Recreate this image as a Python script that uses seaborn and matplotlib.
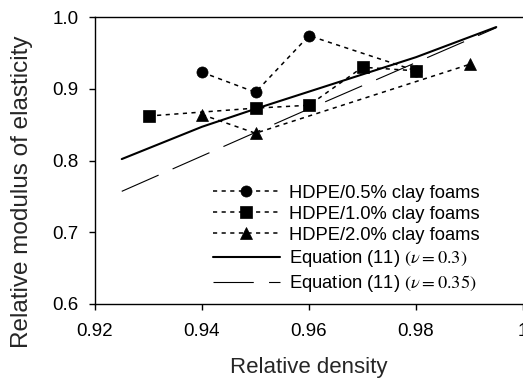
import matplotlib
matplotlib.use("Agg")
import matplotlib.pyplot as plt
import seaborn as sns
import numpy as np

# ---- data ----
x_c05 = [0.94, 0.95, 0.96, 0.98]
y_c05 = [0.923, 0.895, 0.974, 0.925]

x_c10 = [0.93, 0.95, 0.96, 0.97, 0.98]
y_c10 = [0.862, 0.873, 0.877, 0.930, 0.925]

x_c20 = [0.94, 0.95, 0.99]
y_c20 = [0.864, 0.838, 0.934]

x_eq03 = [0.925, 0.94, 0.95, 0.96, 0.97, 0.98, 0.995]
y_eq03 = [0.802, 0.847, 0.872, 0.896, 0.920, 0.944, 0.986]

x_eq035 = [0.925, 0.96, 0.995]
y_eq035 = [0.757, 0.872, 0.985]

labels = ["HDPE/0.5% clay foams", "HDPE/1.0% clay foams", "HDPE/2.0% clay foams",
          r"Equation (11) $(\nu = 0.3)$", r"Equation (11) $(\nu = 0.35)$"]
xticks = [0.92, 0.94, 0.96, 0.98, 1.0]
xticklabels = ["0.92", "0.94", "0.96", "0.98", "1"]
yticks = [0.6, 0.7, 0.8, 0.9, 1.0]
yticklabels = ["0.6", "0.7", "0.8", "0.9", "1.0"]

sns.set_style("ticks")
plt.rcParams["font.family"] = ["Liberation Sans", "DejaVu Sans"]
plt.rcParams["mathtext.fontset"] = "stix"
plt.rcParams["lines.scale_dashes"] = False

fig = plt.figure(figsize=(5.23, 3.84), dpi=100)
ax = fig.add_axes([95 / 523, 80 / 384, 428 / 523, 287 / 384])

dot = (0, (3.0, 3.2))
common = dict(color="black", linewidth=1.1, linestyle=dot, markeredgecolor="black",
              markeredgewidth=0.5, sort=False)
sns.lineplot(x=x_c05, y=y_c05, marker="o", markersize=8, label=labels[0], ax=ax, **common)
sns.lineplot(x=x_c10, y=y_c10, marker="s", markersize=8, label=labels[1], ax=ax, **common)
sns.lineplot(x=x_c20, y=y_c20, marker="^", markersize=9, label=labels[2], ax=ax, **common)
sns.lineplot(x=x_eq03, y=y_eq03, color="black", linewidth=1.5, label=labels[3], ax=ax, sort=False)
sns.lineplot(x=x_eq035, y=y_eq035, color="black", linewidth=0.8,
             linestyle=(0, (29, 11)), label=labels[4], ax=ax, sort=False)

ax.set_xlim(0.92, 1.0)
ax.set_ylim(0.6, 1.0)
ax.set_xticks(xticks)
ax.set_xticklabels(xticklabels)
ax.set_yticks(yticks)
ax.set_yticklabels(yticklabels)
ax.tick_params(axis="both", direction="out", length=4, width=1, labelsize=13.5, colors="black")
ax.tick_params(axis="x", pad=10)
ax.tick_params(axis="y", pad=8)

for s in ["left", "bottom", "top"]:
    ax.spines[s].set_visible(True)
    ax.spines[s].set_linewidth(1.0)
    ax.spines[s].set_color("black")
ax.spines["right"].set_visible(False)

ax.set_xlabel("Relative density", fontsize=16)
ax.set_ylabel("Relative modulus of elasticity", fontsize=17.5)
ax.xaxis.set_label_coords(0.5, -0.185)
ax.yaxis.set_label_coords(-0.145, 0.39)

leg = ax.legend(loc="lower left", bbox_to_anchor=((213 - 95) / 428, 0.035),
                frameon=False, fontsize=13.2, handlelength=3.65, handletextpad=0.5,
                labelspacing=0.22, borderpad=0.0, borderaxespad=0.0)
for t in leg.get_texts():
    t.set_color("black")

fig.savefig("out.png", dpi=100, facecolor="white")
